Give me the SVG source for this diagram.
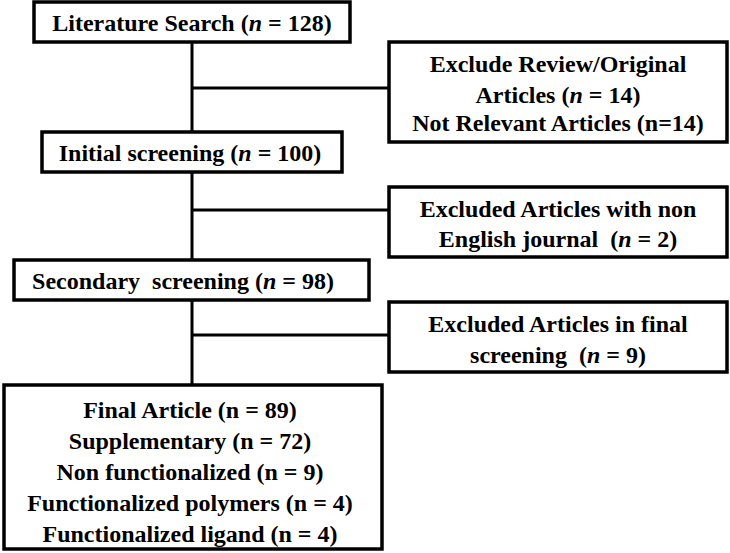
<svg xmlns="http://www.w3.org/2000/svg" width="730" height="553" viewBox="0 0 730 553" font-family="Liberation Serif, DejaVu Serif, serif">
<style>
rect{fill:#fff;stroke:#000;stroke-width:3.5}
line{stroke:#000;stroke-width:3}
text{font-weight:bold;font-size:24px;text-anchor:middle;fill:#000}
</style>
<rect x="0" y="0" width="730" height="553" style="stroke:none"/>
<g id="connectors">
<line x1="192" y1="42" x2="192" y2="385"/>
<line x1="192" y1="88" x2="388" y2="88"/>
<line x1="192" y1="210" x2="388" y2="210"/>
<line x1="192" y1="335" x2="388" y2="335"/>
</g>
<g id="n1"><rect x="34" y="2" width="316" height="40"/><text x="192" y="31">Literature Search (<tspan font-style="italic">n</tspan> = 128)</text></g>
<g id="n2"><rect x="389" y="42" width="338" height="100"/><text x="558" y="72">Exclude Review/Original</text><text x="558" y="103">Articles (<tspan font-style="italic">n</tspan> = 14)</text><text x="558" y="131">Not Relevant Articles (n=14)</text></g>
<g id="n3"><rect x="42" y="132" width="300" height="40"/><text x="190" y="161">Initial screening (<tspan font-style="italic">n</tspan> = 100)</text></g>
<g id="n4"><rect x="389" y="187" width="338" height="70"/><text x="558" y="217">Excluded Articles with non</text><text x="558" y="247" xml:space="preserve">English journal  (<tspan font-style="italic">n</tspan> = 2)</text></g>
<g id="n5"><rect x="14" y="260" width="355" height="40"/><text x="183" y="289" xml:space="preserve">Secondary  screening (<tspan font-style="italic">n</tspan> = 98)</text></g>
<g id="n6"><rect x="389" y="302" width="338" height="70"/><text x="558" y="332">Excluded Articles in final</text><text x="558" y="363" xml:space="preserve">screening  (<tspan font-style="italic">n</tspan> = 9)</text></g>
<g id="n7"><rect x="4" y="385" width="378" height="164"/>
<text x="190" y="418">Final Article (n = 89)</text>
<text x="190" y="449">Supplementary (n = 72)</text>
<text x="190" y="480">Non functionalized (n = 9)</text>
<text x="190" y="511">Functionalized polymers (n = 4)</text>
<text x="190" y="542">Functionalized ligand (n = 4)</text></g>
</svg>
